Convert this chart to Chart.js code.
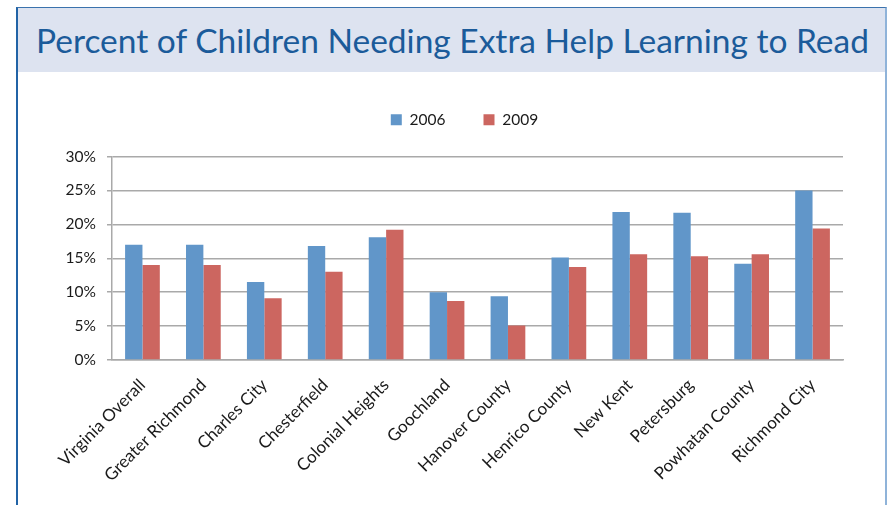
<!DOCTYPE html>
<html>
<head>
<meta charset="utf-8">
<script src="https://cdn.jsdelivr.net/npm/chart.js@4.4.1/dist/chart.umd.min.js"></script>
<style>
  body { margin: 0; background: #fff; }
  #frame {
    position: absolute; left: 16px; top: 7px; width: 867px; height: 510px;
    border-left: 2px solid #2163a6; border-top: 1px solid #3a72ad; border-right: 2px solid #8fb3d9;
  }
  #title {
    height: 64px; background: #dde3f0; color: #1b5b9a;
    font: 33.5px Lato, sans-serif; line-height: 64px; padding-left: 18px; white-space: nowrap;
  }
  #wrap { position: relative; width: 867px; height: 433px; }
</style>
</head>
<body>
<div id="frame">
  <div id="title">Percent of Children Needing Extra Help Learning to Read</div>
  <div id="wrap"><canvas id="chart"></canvas></div>
</div>
<script>
const localities = [
  'Virginia Overall', 'Greater Richmond', 'Charles City', 'Chesterfield',
  'Colonial Heights', 'Goochland', 'Hanover County', 'Henrico County',
  'New Kent', 'Petersburg', 'Powhatan County', 'Richmond City'
];
const pct2006 = [17.0, 17.0, 11.5, 16.8, 18.1, 10.0, 9.4, 15.1, 21.8, 21.7, 14.2, 25.0];
const pct2009 = [14.0, 14.0, 9.1, 13.0, 19.2, 8.7, 5.1, 13.7, 15.6, 15.3, 15.6, 19.4];
const yTicks = [0, 5, 10, 15, 20, 25, 30];

const font = 'Lato, sans-serif';
const gridColor = '#a9a9a9';

// the legend sits a little right of the plot centre and closer to the top
const legendNudge = {
  id: 'legendNudge',
  afterLayout(chart) {
    const lg = chart.legend;
    lg.left += 19; lg.right += 19;
    lg.top -= 19; lg.bottom -= 19;
  }
};

new Chart(document.getElementById('chart'), {
  type: 'bar',
  data: {
    labels: localities,
    datasets: [
      { label: '2006', data: pct2006, backgroundColor: '#6196c9' },
      { label: '2009', data: pct2009, backgroundColor: '#cc6660' }
    ]
  },
  options: {
    responsive: true,
    maintainAspectRatio: false,
    animation: false,
    layout: { padding: { left: 30, right: 42, top: 21, bottom: 0 } },
    datasets: { bar: { barPercentage: 1, categoryPercentage: 0.57 } },
    plugins: {
      legend: {
        position: 'top',
        labels: {
          boxWidth: 11, boxHeight: 11, padding: 38,
          color: '#1a1a1a', font: { family: font, size: 15.5 }
        }
      },
      tooltip: { enabled: false }
    },
    scales: {
      x: {
        grid: { display: false },
        border: { color: gridColor, width: 1.5 },
        ticks: {
          minRotation: 45, maxRotation: 45, autoSkip: false, padding: 7,
          color: '#1a1a1a', font: { family: font, size: 17 }
        },
        afterFit: s => { s.height = 145; }
      },
      y: {
        min: 0, max: 30,
        afterBuildTicks: s => { s.ticks = yTicks.map(v => ({ value: v })); },
        grid: { color: gridColor, lineWidth: 1.5, tickLength: 5 },
        border: { color: gridColor, width: 1.5 },
        ticks: {
          padding: 11, color: '#1a1a1a', font: { family: font, size: 15.5 },
          callback: v => v + '%'
        },
        afterFit: s => { s.width = 64; }
      }
    }
  },
  plugins: [legendNudge]
});
</script>
</body>
</html>
